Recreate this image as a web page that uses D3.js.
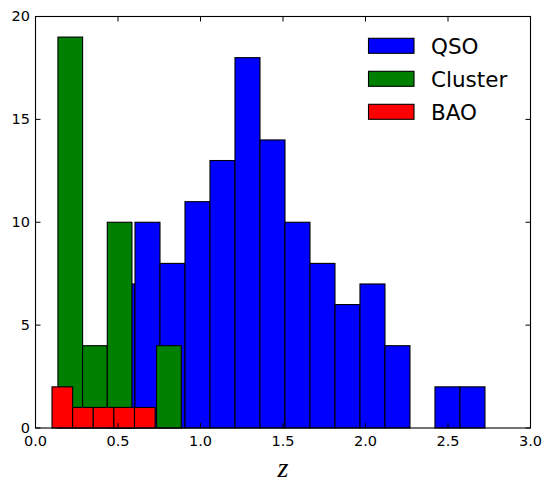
<!DOCTYPE html>
<html><head><meta charset="utf-8">
<script src="https://cdn.jsdelivr.net/npm/d3@7"></script>
<style>body{margin:0;background:#fff;}svg{display:block;}</style>
</head><body>
<svg id="c" width="542" height="484"></svg>
<script>
// Series: bin start, bin width, counts
const qsoStart = 0.4515, qsoWidth = 0.1515;
const qsoCounts = [7, 10, 8, 11, 13, 18, 14, 10, 8, 6, 7, 4, 0, 2, 2];
const clusterStart = 0.136, clusterWidth = 0.1495;
const clusterCounts = [19, 4, 10, 0, 4];
const baoStart = 0.1, baoWidth = 0.125;
const baoCounts = [2, 1, 1, 1, 1];
const seriesNames = ["QSO", "Cluster", "BAO"];
const seriesColors = ["#0000ff", "#008000", "#ff0000"];
const xTicks = [0, 0.5, 1.0, 1.5, 2.0, 2.5, 3.0];
const yTicks = [0, 5, 10, 15, 20];

const svg = d3.select("#c");
const L = 35.5, R = 530.5, T = 16.5, B = 428;
const x = d3.scaleLinear().domain([0, 3]).range([L, R]);
const y = d3.scaleLinear().domain([0, 20]).range([B, T]);

function bins(start, w, counts) {
  return counts.map((c, i) => ({x0: start + i * w, x1: start + (i + 1) * w, c}));
}
const series = [
  bins(qsoStart, qsoWidth, qsoCounts),
  bins(clusterStart, clusterWidth, clusterCounts),
  bins(baoStart, baoWidth, baoCounts)
];

const plot = svg.append("g");
series.forEach((s, k) => {
  plot.append("g").selectAll("rect").data(s.filter(d => d.c > 0)).join("rect")
    .attr("x", d => x(d.x0)).attr("y", d => y(d.c))
    .attr("width", d => x(d.x1) - x(d.x0)).attr("height", d => y(0) - y(d.c))
    .attr("fill", seriesColors[k]).attr("stroke", "#000").attr("stroke-width", 1.1);
});

// frame
svg.append("rect").attr("x", L).attr("y", T).attr("width", R - L).attr("height", B - T)
  .attr("fill", "none").attr("stroke", "#000").attr("stroke-width", 1.1);

const tickLen = 5;
const fontTick = "DejaVu Sans, sans-serif";
// x ticks
const gx = svg.append("g");
xTicks.forEach(v => {
  gx.append("line").attr("x1", x(v)).attr("x2", x(v)).attr("y1", B).attr("y2", B - tickLen).attr("stroke", "#000");
  gx.append("line").attr("x1", x(v)).attr("x2", x(v)).attr("y1", T).attr("y2", T + tickLen).attr("stroke", "#000");
  gx.append("text").attr("x", x(v)).attr("y", B + 17.5).attr("text-anchor", "middle")
    .attr("font-family", fontTick).attr("font-size", 14.5).text(d3.format(".1f")(v));
});
// y ticks
const gy = svg.append("g");
yTicks.forEach(v => {
  gy.append("line").attr("x1", L).attr("x2", L + tickLen).attr("y1", y(v)).attr("y2", y(v)).attr("stroke", "#000");
  gy.append("line").attr("x1", R).attr("x2", R - tickLen).attr("y1", y(v)).attr("y2", y(v)).attr("stroke", "#000");
  gy.append("text").attr("x", L - 5.5).attr("y", y(v)).attr("dy", "0.34em").attr("text-anchor", "end")
    .attr("font-family", fontTick).attr("font-size", 14.5).text(v);
});

// x label
svg.append("text").attr("x", (L + R) / 2).attr("y", 477).attr("text-anchor", "middle")
  .attr("font-family", "Liberation Serif, serif").attr("font-style", "italic").attr("font-size", 28).text("z");

// legend
const lg = svg.append("g");
seriesNames.forEach((n, i) => {
  const cy = 45.8 + i * 33;
  lg.append("rect").attr("x", 368.5).attr("y", cy - 7.5).attr("width", 45.5).attr("height", 15)
    .attr("fill", seriesColors[i]).attr("stroke", "#000").attr("stroke-width", 1.1);
  lg.append("text").attr("x", 431).attr("y", cy).attr("dy", "0.36em")
    .attr("font-family", fontTick).attr("font-size", 21.5).text(n);
});
</script>
</body></html>
